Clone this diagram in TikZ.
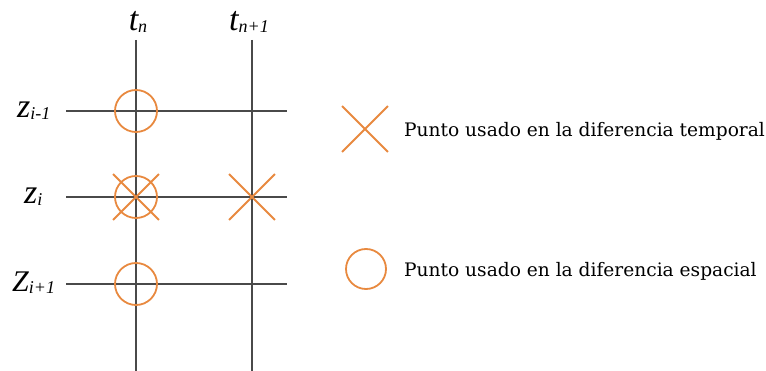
\documentclass[tikz,border=0pt]{standalone}
\usepackage{fontspec}
\setmainfont{Liberation Serif}
\newfontfamily\legfont{DejaVu Serif}
\usetikzlibrary{shapes.misc}
\definecolor{gridc}{HTML}{4A4A4A}
\definecolor{orng}{HTML}{E8893F}
\newcommand{\lbl}[3]{{\fontsize{#3}{#3}\selectfont\itshape #1}{\fontsize{18}{18}\selectfont\itshape\raisebox{-0.1em}{#2}}}
\begin{document}
\begin{tikzpicture}[x=1pt,y=-1pt,
  gridline/.style={draw=gridc,line width=1.8pt},
  ptcirc/.style={circle,draw=orng,line width=1.8pt,minimum size=42pt,inner sep=0pt},
  ptcross/.style={cross out,draw=orng,line width=1.8pt,minimum size=44pt,inner sep=0pt},
  legtext/.style={anchor=base west,font=\legfont\fontsize{18.6}{20}\selectfont,inner sep=0pt}]
\useasboundingbox (0,0) rectangle (766,371);
% grid ends
\coordinate (v1t) at (136,40); \coordinate (v1b) at (136,371);
\coordinate (v2t) at (252,40); \coordinate (v2b) at (252,371);
\coordinate (h1l) at (66,111); \coordinate (h1r) at (287,111);
\coordinate (h2l) at (66,197); \coordinate (h2r) at (287,197);
\coordinate (h3l) at (66,284); \coordinate (h3r) at (287,284);
\draw[gridline] (v1t) -- (v1b);
\draw[gridline] (v2t) -- (v2b);
\draw[gridline] (h1l) -- (h1r);
\draw[gridline] (h2l) -- (h2r);
\draw[gridline] (h3l) -- (h3r);
% markers
\node[ptcirc] (c1) at (136,111) {};
\node[ptcirc] (c2) at (136,197) {};
\node[ptcirc] (c3) at (136,284) {};
\node[ptcross] (x1) at (136,197) {};
\node[ptcross] (x2) at (252,197) {};
% labels
\node[anchor=base,inner sep=0pt] (tn) at (138,31) {\lbl{t}{n}{34}};
\node[anchor=base,inner sep=0pt] (tn1) at (249,31) {\lbl{t}{n+1}{34}};
\node[anchor=base west,inner sep=0pt] (z1) at (17,118) {\lbl{z}{i-1}{34}};
\node[anchor=base west,inner sep=0pt] (z2) at (24,204) {\lbl{z}{i}{34}};
\node[anchor=base west,inner sep=0pt] (z3) at (12,292) {\lbl{Z}{i+1}{30}};
% legend
\node[ptcross] (lx) at (365,129) {};
\node[ptcirc,minimum size=40pt] (lc) at (366,269) {};
\node[legtext] (lt1) at (404,137) {Punto usado en la diferencia temporal};
\node[legtext] (lt2) at (404,277) {Punto usado en la diferencia espacial};
\end{tikzpicture}
\end{document}
